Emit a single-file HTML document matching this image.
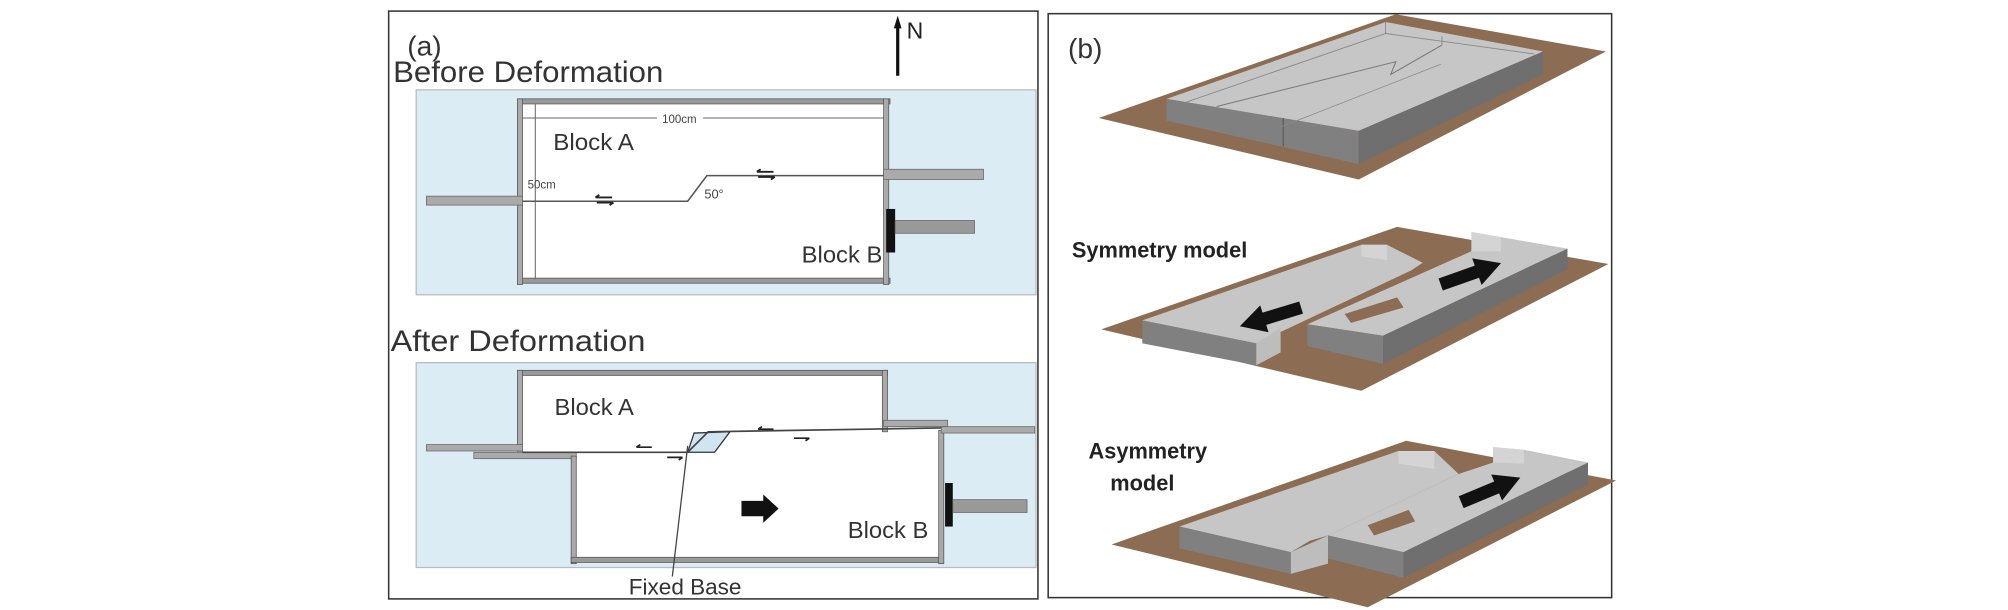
<!DOCTYPE html>
<html><head><meta charset="utf-8"><style>
html,body{margin:0;padding:0;background:#fff;}
svg{display:block;}
.m{font-family:"Liberation Sans",sans-serif;fill:#333;}
.s{font-family:"Liberation Sans",sans-serif;}
</style></head><body>
<svg width="2008" height="610" viewBox="0 0 1568 476" xmlns="http://www.w3.org/2000/svg">
<defs>
<polygon id="arr" points="0,-5 30,-5 30,-11 50,0 30,11 30,5 0,5" fill="#111"/>
</defs>
<rect width="1568" height="476" fill="#fff"/>
<!-- Panel a -->
<rect x="303.5" y="8.5" width="507" height="459" fill="#fff" stroke="#333" stroke-width="1.2"/>
<text x="318" y="43" class="s" font-size="22" fill="#333">(a)</text>
<text x="307" y="64" class="m" font-size="23" fill="#222" textLength="211" lengthAdjust="spacingAndGlyphs">Before Deformation</text>
<line x1="701" y1="59" x2="701" y2="18" stroke="#111" stroke-width="2.5"/>
<polygon points="701,12 698,22 704,22" fill="#111"/>
<text x="708" y="30" class="s" font-size="18" fill="#222">N</text>

<!-- before box -->
<rect x="325" y="70" width="484" height="160" fill="#dcecf5" stroke="#bbb"/>
<rect x="407" y="79" width="284" height="141" fill="#fff"/>
<rect x="405" y="77" width="290" height="4" fill="#999" stroke="#555" stroke-width="0.6"/>
<rect x="405" y="217" width="290" height="4" fill="#999" stroke="#555" stroke-width="0.6"/>
<rect x="404" y="77" width="4" height="145" fill="#aaa" stroke="#555" stroke-width="0.6"/>
<rect x="690" y="77" width="4" height="145" fill="#aaa" stroke="#555" stroke-width="0.6"/>
<rect x="333" y="153" width="75" height="7" fill="#aaa" stroke="#666" stroke-width="0.6"/>
<rect x="690" y="132" width="78" height="8" fill="#aaa" stroke="#666" stroke-width="0.6"/>
<rect x="692" y="163" width="7" height="34" fill="#111"/>
<rect x="699" y="172" width="62" height="10" fill="#999" stroke="#666" stroke-width="0.6"/>
<line x1="418" y1="81" x2="418" y2="218" stroke="#666" stroke-width="0.8"/>
<line x1="408" y1="92" x2="513" y2="92" stroke="#666" stroke-width="0.8"/>
<line x1="549" y1="92" x2="690" y2="92" stroke="#666" stroke-width="0.8"/>
<text x="517" y="96" class="s" font-size="9" fill="#444">100cm</text>
<text x="432" y="117" class="m" font-size="18" fill="#333" textLength="63" lengthAdjust="spacingAndGlyphs">Block A</text>
<text x="412" y="147" class="s" font-size="9" fill="#444">50cm</text>
<polyline points="408,157 537,157 552,137 690,137" fill="none" stroke="#555" stroke-width="1.2"/>
<text x="550" y="155" class="s" font-size="10" fill="#444">50°</text>
<path d="M465,154 h13 M465,154 l3,-2 M466,158 h13 M479,158 l-3,2" stroke="#222" stroke-width="1.5" fill="none"/>
<path d="M591,134 h13 M591,134 l3,-2 M592,138 h13 M605,138 l-3,2" stroke="#222" stroke-width="1.5" fill="none"/>
<text x="626" y="205" class="m" font-size="18" fill="#333" textLength="63" lengthAdjust="spacingAndGlyphs">Block B</text>

<text x="305" y="274" class="m" font-size="23" fill="#222" textLength="199" lengthAdjust="spacingAndGlyphs">After Deformation</text>
<!-- after box -->
<rect x="325" y="283" width="484" height="160" fill="#dcecf5" stroke="#bbb"/>
<polygon points="408,292 690,292 690,336 553,337 537,353 408,353" fill="#fff"/>
<polygon points="450,353 537,353 553,337 735,334 735,438 450,438" fill="#fff"/>
<polygon points="537,353 542,338 570,337 558,353" fill="#cfe6f2" stroke="#333" stroke-width="1"/>
<rect x="405" y="289" width="288" height="4" fill="#999" stroke="#555" stroke-width="0.6"/>
<rect x="404" y="289" width="4" height="65" fill="#aaa" stroke="#555" stroke-width="0.6"/>
<rect x="689" y="289" width="4" height="48" fill="#aaa" stroke="#555" stroke-width="0.6"/>
<rect x="333" y="347" width="75" height="5" fill="#aaa" stroke="#666" stroke-width="0.6"/>
<rect x="370" y="353" width="80" height="5" fill="#aaa" stroke="#666" stroke-width="0.6"/>
<rect x="446" y="356" width="4" height="84" fill="#aaa" stroke="#555" stroke-width="0.6"/>
<rect x="446" y="435" width="290" height="4" fill="#999" stroke="#555" stroke-width="0.6"/>
<rect x="733" y="336" width="4" height="104" fill="#aaa" stroke="#555" stroke-width="0.6"/>
<rect x="690" y="328" width="50" height="5" fill="#aaa" stroke="#666" stroke-width="0.6"/>
<rect x="735" y="333" width="73" height="5" fill="#aaa" stroke="#666" stroke-width="0.6"/>
<rect x="738" y="377" width="6" height="34" fill="#111"/>
<rect x="744" y="390" width="58" height="10" fill="#999" stroke="#666" stroke-width="0.6"/>
<polyline points="408,353 537,353 553,337 735,334" fill="none" stroke="#444" stroke-width="1.3"/>
<path d="M497,349 h12 M497,349 l3,-2 M521,357 h12 M533,357 l-3,2 M592,335 h12 M592,335 l3,-2 M620,342 h12 M632,342 l-3,2" stroke="#222" stroke-width="1.3" fill="none"/>
<text x="433" y="324" class="m" font-size="18" fill="#333" textLength="62" lengthAdjust="spacingAndGlyphs">Block A</text>
<text x="662" y="420" class="m" font-size="18" fill="#333" textLength="63" lengthAdjust="spacingAndGlyphs">Block B</text>
<polygon points="579,391 596,391 596,386 608,397 596,408 596,403 579,403" fill="#111"/>
<line x1="537" y1="348" x2="525" y2="450" stroke="#444" stroke-width="1"/>
<text x="491" y="464" class="m" font-size="17" fill="#333" textLength="88" lengthAdjust="spacingAndGlyphs">Fixed Base</text>

<!-- Panel b -->
<rect x="818.5" y="10.5" width="440" height="456" fill="#fff" stroke="#333" stroke-width="1.2"/>
<text x="834" y="45" class="s" font-size="22" fill="#333">(b)</text>

<!-- slab 1 -->
<polygon points="858,92 1090,11 1254,40 1061,140" fill="#8c6c52"/>
<polygon points="911,77 1082,17 1205,40 1061,102" fill="#c6c6c6"/>
<polygon points="911,77 1061,102 1061,128 911,94" fill="#808080"/>
<polygon points="1061,102 1205,40 1205,58 1061,128" fill="#6f6f6f"/>
<line x1="1002" y1="92" x2="1002" y2="114" stroke="#555" stroke-width="0.8"/>
<line x1="1082" y1="17" x2="1082" y2="26" stroke="#888" stroke-width="0.7"/>
<polyline points="925,80 1082,26 1198,42" fill="none" stroke="#888" stroke-width="0.7"/>
<line x1="1126" y1="28" x2="1126" y2="35" stroke="#888" stroke-width="0.7"/>
<polyline points="950,83 1090,48 1086,58 1126,35" fill="none" stroke="#777" stroke-width="0.8"/>
<line x1="1000" y1="99" x2="1125" y2="50" stroke="#888" stroke-width="0.6"/>

<!-- slab 2 -->
<polygon points="860,257 1091,177 1256,206 1063,305" fill="#8c6c52"/>
<polygon points="892,250 1063,191 1083,191 1111,205 1102,211 981,268" fill="#c6c6c6"/>
<polygon points="1063,191 1083,191 1083,203 1063,200" fill="#d4d4d4"/>
<polygon points="892,250 981,268 981,285 892,268" fill="#808080"/>
<polygon points="981,268 1000,256 1000,275 981,285" fill="#bdbdbd"/>
<polygon points="1021,253 1149,196 1149,181 1172,185 1224,194 1080,262" fill="#c6c6c6"/>
<polygon points="1149,181 1172,185 1172,196 1149,196" fill="#d4d4d4"/>
<polygon points="1021,253 1080,262 1080,284 1021,270" fill="#808080"/>
<polygon points="1080,262 1224,194 1224,210 1080,284" fill="#6f6f6f"/>
<polygon points="1050,245 1091,232 1096,240 1055,252" fill="#8c6c52"/>
<use href="#arr" transform="translate(1016,240) rotate(163)"/>
<use href="#arr" transform="translate(1125,222) rotate(-19.5)"/>
<text x="837" y="201" class="s" font-size="17" font-weight="bold" fill="#222">Symmetry model</text>

<!-- slab 3 -->
<polygon points="868,425 1098,344 1262,375 1068,474" fill="#8c6c52"/>
<polygon points="921,411 1092,352 1120,352 1139,370 1037,418 1023,422 1008,431" fill="#c6c6c6"/>
<polygon points="1092,352 1120,352 1120,366 1092,362" fill="#d4d4d4"/>
<polygon points="921,411 1008,431 1008,448 921,428" fill="#808080"/>
<polygon points="1008,431 1037,418 1037,440 1008,448" fill="#bdbdbd"/>
<polygon points="1037,418 1139,370 1166,361 1166,349 1190,351 1240,361 1096,431" fill="#c6c6c6"/>
<polygon points="1166,349 1190,351 1190,362 1166,361" fill="#d4d4d4"/>
<polygon points="1037,418 1096,431 1096,451 1037,436" fill="#808080"/>
<polygon points="1096,431 1240,361 1240,378 1096,451" fill="#6f6f6f"/>
<polygon points="1068,410 1100,398 1105,407 1073,418" fill="#8c6c52"/>
<use href="#arr" transform="translate(1141,392) rotate(-22.6)"/>
<text x="850" y="358" class="s" font-size="17" font-weight="bold" fill="#222">Asymmetry</text>
<text x="867" y="383" class="s" font-size="17" font-weight="bold" fill="#222">model</text>
</svg>
</body></html>
